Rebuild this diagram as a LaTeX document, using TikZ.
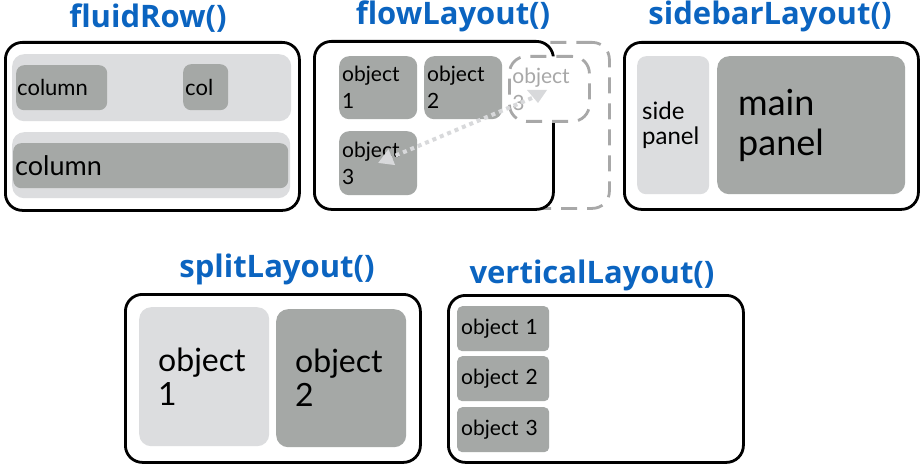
\documentclass[tikz,border=0pt]{standalone}
\usepackage{fontspec}
\setmainfont{Lato}
\newfontfamily\titlefont{Open Sans}
\usetikzlibrary{arrows.meta}

\definecolor{lightpanel}{HTML}{DCDDDF}
\definecolor{darkpanel}{HTML}{A5A8A6}
\definecolor{titleblue}{HTML}{0B64C0}
\definecolor{ghost}{HTML}{A8A8A8}
\definecolor{move}{HTML}{D8D9DB}

\begin{document}
\begin{tikzpicture}[x=1pt,y=-1pt,
   frame/.style={draw,line width=2.8pt,rounded corners=17pt,fill=white,anchor=north west,inner sep=0pt},
   light box/.style={fill=lightpanel,rounded corners=9pt,inner sep=0pt,anchor=north west,align=left},
   dark box/.style={fill=darkpanel,rounded corners=8pt,inner sep=0pt,anchor=north west,align=left},
   title/.style={font=\titlefont\bfseries\fontsize{31}{33}\selectfont,text=titleblue,anchor=base}]

\useasboundingbox (0,0) rectangle (920,468);

% fluidRow
\node[title] (tfluid) at (148,28) {fluidRow()};
\node[frame,minimum width=294,minimum height=168] (fluid) at (4,41) {};
\node[light box,rounded corners=12pt,minimum width=279,minimum height=67] (row1) at (12,54) {};
\node[light box,rounded corners=12pt,minimum width=278,minimum height=66] (row2) at (12,132) {};
\node[dark box,minimum height=45,text width=89,inner xsep=1,font=\fontsize{22}{26}\selectfont] (cola) at (16,65) {column};
\node[dark box,minimum height=46,text width=41,inner xsep=2,font=\fontsize{22}{26}\selectfont] (colb) at (183,64) {col};
\node[dark box,minimum height=45,text width=271,inner xsep=2,font=\fontsize{27}{30}\selectfont] (colc) at (13,143) {column};

% flowLayout
\node[title] (tflow) at (453,25) {flowLayout()};
\node[frame,draw=ghost,dash pattern=on 16pt off 10pt,minimum width=295,minimum height=166] (wide) at (313,41) {};
\node[frame,minimum width=239,minimum height=168] (flow) at (313,40) {};
\node[dark box,rounded corners=10pt,minimum height=63,text width=72,inner xsep=3,font=\fontsize{21}{27}\selectfont] (obj1) at (339,56) {object\\1};
\node[dark box,rounded corners=10pt,minimum height=63,text width=72,inner xsep=3,font=\fontsize{21}{27}\selectfont] (obj2) at (424,56) {object\\2};
\node[dark box,rounded corners=10pt,minimum height=64,text width=72,inner xsep=3,font=\fontsize{21}{27}\selectfont] (obj3) at (339,131) {object\\3};
\node[dark box,fill=white,draw=ghost,line width=2.8pt,dash pattern=on 16pt off 10pt,rounded corners=17pt,
   minimum height=65,text width=74,inner xsep=3,text=ghost,font=\fontsize{21}{27}\selectfont] (ghost3) at (508,55) {object\\3};
\fill[move] ([shift={(19,35)}]ghost3.north west) -- ([shift={(39,35)}]ghost3.north west) -- ([shift={(30,48)}]ghost3.north west) -- cycle;
\draw[move,line width=4pt,dash pattern=on 4pt off 4pt,-{Triangle[width=16pt,length=15pt]}]
   ([shift={(24,43)}]ghost3.north west) -- ([shift={(39,32)}]obj3.north west);

% sidebarLayout
\node[title] (tsidebar) at (770,25) {sidebarLayout()};
\node[frame,minimum width=294,minimum height=167] (sidebar) at (623,41) {};
\node[light box,minimum height=138,text width=62,inner xsep=5,font=\fontsize{24}{25}\selectfont] (side) at (637,56) {side\\panel};
\node[dark box,rounded corners=12pt,minimum height=138,text width=146,inner xsep=21,font=\fontsize{36}{40}\selectfont] (main) at (717,56) {main\\panel};

% splitLayout
\node[title] (tsplit) at (277,277) {splitLayout()};
\node[frame,minimum width=295,minimum height=168] (split) at (124,293) {};
\node[light box,rounded corners=12pt,minimum height=139,text width=92,inner xsep=19,font=\fontsize{32}{34}\selectfont] (left) at (139,307) {object\\1};
\node[dark box,rounded corners=12pt,minimum height=138,text width=92,inner xsep=19,font=\fontsize{32}{34}\selectfont] (right) at (276,309) {object\\2};

% verticalLayout
\node[title] (tvertical) at (592,283) {verticalLayout()};
\node[frame,minimum width=295,minimum height=167] (vertical) at (447,294) {};
\foreach \i/\y in {1/306,2/356,3/407}
   \node[dark box,rounded corners=5pt,minimum height=45,text width=84,inner xsep=4,font=\fontsize{21}{24}\selectfont] (v\i) at (457,\y) {object \i};

\end{tikzpicture}
\end{document}
